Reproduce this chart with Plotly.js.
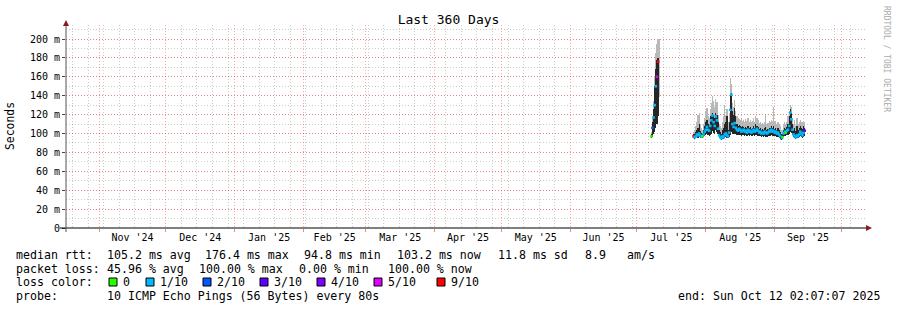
<!DOCTYPE html>
<html>
<head>
<meta charset="utf-8">
<script src="https://cdn.plot.ly/plotly-3.0.1.min.js"></script>
<style>html,body{margin:0;padding:0;background:#fff;}#chart{width:897px;height:310px;}</style>
</head>
<body>
<div id="chart"></div>
<script>
// ---- data ----
const lossColors = ['#26ff00', '#00b8ff', '#0059ff', '#5e00ff', '#7e00ff', '#dd00ff', '#ff0000'];
const lossLabels = ['0', '1/10', '2/10', '3/10', '4/10', '5/10', '9/10'];
const stepHours = 12;

// cluster 1 (early July 2025)
const c1Start = '2025-07-07T12:00:00';
const c1Median = [97, 106, 117, 130, 150, 160, 176, null];
const c1Loss   = [0, 2, 1, 1, 1, 5, 6, null];
const c1Lo     = [95, 96, 99, 102, 106, 110, 118, 139];
const c1Dark   = [99, 112, 126, 150, 168, 178, 180, null];
const c1Top    = [102, 118, 134, 160, 185, 195, 200, 200];

// cluster 2 (late July - mid September 2025)
const c2Start = '2025-07-26T12:00:00';
const c2Median = [97, 96, 97, 99, 98, 100, 98, 97, 97, 99, 102, 104, 107, 104, 103, 108, 114, 119, 112, 108,
  118, 114, 105, 98, 96, 95, 97, 96, 99, 100, 98, 97, 101, 125, 141, 110, 107, 111, 106, 104,
  103, 105, 104, 102, 103, 104, 102, 103, 101, 104, 102, 103, 101, 102, 104, 102, 103, 105, 103, 101,
  102, 100, 101, 100, 102, 101, 100, 101, 103, 102, 104, 102, 103, 101, 102, 100, 101, 99, 97, 95,
  96, 100, 102, 101, 103, 104, 108, 122, 115, 104, 99, 97, 96, 98, 97, 99, 102, 100, 98, 101, 103];
const c2Loss = [6, 1, 1, 1, 1, 1, 1, 1, 0, 1, 1, 1, 1, 1, 1, 1, 1, 1, 1, 1,
  1, 1, 1, 1, 1, 1, 1, 1, 1, 1, 1, 1, 1, 1, 1, 1, 1, 1, 1, 1,
  1, 1, 1, 1, 1, 1, 1, 1, 1, 1, 1, 1, 1, 1, 1, 1, 1, 1, 1, 1,
  1, 1, 1, 1, 1, 1, 1, 1, 1, 1, 1, 1, 1, 1, 1, 1, 1, 1, 1, 2,
  0, 1, 1, 0, 1, 1, 1, 1, 1, 1, 1, 1, 1, 1, 1, 1, 1, 1, 1, 1, 3];
const c2Lo = [95, 94, 95, 96, 95, 96, 95, 95, 95, 96, 97, 98, 99, 98, 97, 98, 100, 103, 101, 99,
  104, 102, 99, 95, 94, 93, 94, 94, 95, 96, 95, 95, 96, 98, 102, 100, 99, 100, 99, 98,
  98, 98, 98, 97, 98, 98, 97, 98, 97, 98, 97, 98, 97, 97, 98, 97, 98, 98, 97, 97,
  97, 96, 97, 96, 97, 96, 96, 97, 97, 97, 98, 97, 97, 97, 97, 96, 96, 95, 94, 93,
  94, 96, 97, 97, 98, 98, 99, 102, 101, 98, 96, 95, 94, 95, 95, 96, 97, 96, 95, 96, 97];
const c2Dark = [99, 100, 102, 104, 106, 110, 103, 101, 100, 104, 108, 112, 114, 110, 108, 118, 120, 122, 120, 116,
  122, 120, 112, 104, 102, 100, 104, 106, 110, 112, 118, 104, 112, 142, 143, 124, 120, 127, 118, 110,
  108, 109, 108, 107, 108, 107, 106, 107, 106, 108, 106, 107, 105, 106, 108, 106, 110, 108, 107, 105,
  106, 104, 105, 104, 106, 107, 104, 105, 106, 106, 108, 106, 108, 105, 106, 104, 106, 104, 102, 100,
  100, 104, 106, 105, 107, 110, 118, 126, 122, 110, 104, 106, 103, 108, 104, 106, 108, 106, 105, 108, 106];
const c2Top = [102, 104, 108, 112, 120, 122, 110, 106, 104, 110, 116, 124, 127, 118, 116, 126, 132, 140, 134, 128,
  136, 133, 120, 110, 108, 106, 112, 118, 130, 120, 126, 112, 122, 159, 152, 132, 128, 135, 124, 118,
  116, 115, 114, 116, 113, 114, 112, 115, 113, 116, 112, 114, 112, 113, 116, 112, 118, 116, 114, 111,
  112, 110, 111, 110, 112, 120, 110, 111, 113, 112, 114, 112, 128, 112, 113, 110, 112, 110, 108, 104,
  104, 110, 112, 110, 112, 118, 124, 130, 128, 116, 110, 114, 108, 116, 110, 112, 114, 112, 112, 112, 112];

// axis / text content
const xRange = ['2024-10-17 02:07:07', '2025-10-12 02:07:07'];
const yTickVals = [0, 20, 40, 60, 80, 100, 120, 140, 160, 180, 200];
const yTickText = ['0', '20 m', '40 m', '60 m', '80 m', '100 m', '120 m', '140 m', '160 m', '180 m', '200 m'];
const titleText = 'Last 360 Days';
const yTitle = 'Seconds';
const medianHead = 'median rtt:';
const medianChunks = ['105.2 ms avg', '176.4 ms max', '94.8 ms min', '103.2 ms now', '11.8 ms sd', '8.9', 'am/s'];
const lossHead = 'packet loss:';
const lossChunks = ['45.96 % avg', '100.00 % max', '0.00 % min', '100.00 % now'];
const lossColorHead = 'loss color:';
const probeHead = 'probe:';
const probeText = '10 ICMP Echo Pings (56 Bytes) every 80s';
const endLine = 'end: Sun Oct 12 02:07:07 2025';
const watermark = 'RRDTOOL / TOBI OETIKER';

// ---- build ----
const STEP = stepHours * 3600 * 1000;
function times(start, n) {
  const t0 = Date.parse(start + 'Z');
  const out = [];
  for (let i = 0; i < n; i++) out.push(new Date(t0 + i * STEP).toISOString().slice(0, 19).replace('T', ' '));
  return out;
}
const X = times(c1Start, c1Median.length).concat(times(c2Start, c2Median.length));
const MED = c1Median.concat(c2Median);
const LOSS = c1Loss.concat(c2Loss);
const LO = c1Lo.concat(c2Lo);
const DARK = c1Dark.concat(c2Dark);
const TOP = c1Top.concat(c2Top);

const lightBase = LO.map((v, i) => DARK[i] == null ? v : DARK[i]);
const lightH = TOP.map((v, i) => v - lightBase[i]);
const darkH = DARK.map((v, i) => v == null ? null : v - LO[i]);

const traces = [
  {type: 'bar', x: X, y: lightH, base: lightBase, width: STEP * 1.05,
   marker: {color: '#b8b8b8', line: {width: 0}}, hoverinfo: 'skip'},
  {type: 'bar', x: X, y: darkH, base: LO, width: STEP * 1.05,
   marker: {color: '#262626', line: {width: 0}}, hoverinfo: 'skip'},
  {type: 'scatter', mode: 'markers', x: X, y: MED,
   marker: {symbol: 'square', size: 2.6, color: LOSS.map(l => l == null ? 'rgba(0,0,0,0)' : lossColors[l]), line: {width: 0}},
   hoverinfo: 'skip'}
];

// pixel helpers (plot area: x 66..866, y 25..228)
const L = 66, T = 25, PW = 800, PH = 203, Y0 = 228;
const px = v => (v - L) / PW;
const py = v => (Y0 - v) / PH;
const nb = s => s.replace(/ /g, '\u00a0');
const FONT = 'DejaVu Sans Mono, monospace';
const LFONT = {family: FONT, size: 11.6, color: '#000'};

const annotations = [
  {text: yTitle, xref: 'paper', yref: 'paper', x: px(10), y: py(126), textangle: -90,
   showarrow: false, font: {family: FONT, size: 11.4, color: '#000'}, xanchor: 'center', yanchor: 'middle'},
  {text: watermark, xref: 'paper', yref: 'paper', x: px(887), y: py(59), textangle: 90,
   showarrow: false, font: {family: FONT, size: 8, color: '#aaaaaa'}, xanchor: 'center', yanchor: 'middle'},
  {text: nb(endLine), xref: 'paper', yref: 'paper', x: px(882), y: py(296), showarrow: false,
   font: LFONT, xanchor: 'right', yanchor: 'middle'}
];
function addText(str, x, y) {
  annotations.push({text: nb(str), xref: 'paper', yref: 'paper', x: px(x - 2), y: py(y), showarrow: false,
    font: LFONT, xanchor: 'left', yanchor: 'middle'});
}
// legend rows
const row1X = [107, 205, 304, 397, 498, 585, 627];
const row2X = [107, 199, 299, 388];
addText(medianHead, 16, 254.5);
medianChunks.forEach((s, i) => addText(s, row1X[i], 254.5));
addText(lossHead, 16, 268.5);
lossChunks.forEach((s, i) => addText(s, row2X[i], 268.5));
addText(lossColorHead, 16, 282);
addText(probeHead, 16, 296);
addText(probeText, 107, 296);

const boxX = [109, 146, 203, 260, 317, 374, 437];
const shapes = [];
lossLabels.forEach((lab, i) => {
  shapes.push({type: 'rect', xref: 'paper', yref: 'paper', x0: px(boxX[i]), x1: px(boxX[i] + 8),
    y0: py(286), y1: py(278), fillcolor: lossColors[i], line: {color: '#000', width: 1}});
  addText(lab, boxX[i] + 14, 282);
});

// axis lines and arrows
shapes.push({type: 'line', xref: 'paper', yref: 'paper', x0: px(60), x1: px(867), y0: 0, y1: 0,
  line: {color: '#000', width: 1}});
shapes.push({type: 'line', xref: 'paper', yref: 'paper', x0: 0, x1: 0, y0: py(232), y1: py(24),
  line: {color: '#555', width: 1}});
shapes.push({type: 'path', xref: 'paper', yref: 'paper',
  path: `M ${px(866)} ${py(225)} L ${px(866)} ${py(231)} L ${px(872)} ${py(228)} Z`,
  fillcolor: '#8b1a1a', line: {width: 0}});
shapes.push({type: 'path', xref: 'paper', yref: 'paper',
  path: `M ${px(63)} ${py(26)} L ${px(69)} ${py(26)} L ${px(66)} ${py(20)} Z`,
  fillcolor: '#8b1a1a', line: {width: 0}});

const layout = {
  width: 897, height: 310, autosize: false,
  margin: {l: L, r: 897 - L - PW, t: T, b: 310 - Y0, pad: 0},
  paper_bgcolor: '#fff', plot_bgcolor: '#fff',
  showlegend: false, barmode: 'overlay', bargap: 0,
  font: {family: FONT, size: 10, color: '#000'},
  title: {text: titleText, font: {family: FONT, size: 13, color: '#000'}, x: 0.5, xanchor: 'center',
    xref: 'container', y: 1 - 19 / 310, yanchor: 'middle', yref: 'container'},
  xaxis: {type: 'date', range: xRange, dtick: 'M1', tick0: '2024-11-01', tickformat: "%b '%y",
    ticklabelmode: 'period', showgrid: true, gridcolor: 'rgba(255,0,0,0.35)', griddash: '1px,2px', gridwidth: 1,
    ticks: 'outside', ticklen: 3, tickcolor: 'rgba(220,60,60,0.6)', tickfont: {family: FONT, size: 10, color: '#000'},
    ticklabelstandoff: -3,
    zeroline: false, showline: false, fixedrange: true,
    minor: {dtick: 7 * 24 * 3600 * 1000, tick0: '2024-10-20', showgrid: true, gridcolor: 'rgba(0,0,0,0.2)',
      griddash: '1px,2px', gridwidth: 1, ticks: ''}},
  yaxis: {range: [0, (Y0 - T) / 0.945], tickmode: 'array', tickvals: yTickVals, ticktext: yTickText,
    showgrid: true, gridcolor: 'rgba(255,0,0,0.35)', griddash: '1px,2px', gridwidth: 1,
    ticks: 'outside', ticklen: 3, tickcolor: '#444', tickfont: {family: FONT, size: 10, color: '#000'},
    zeroline: false, showline: false, fixedrange: true,
    minor: {tick0: 0, dtick: 10, showgrid: true, gridcolor: 'rgba(0,0,0,0.2)', griddash: '1px,2px', gridwidth: 1, ticks: ''}},
  annotations: annotations,
  shapes: shapes
};

Plotly.newPlot('chart', traces, layout, {displayModeBar: false, staticPlot: true});
</script>
</body>
</html>
